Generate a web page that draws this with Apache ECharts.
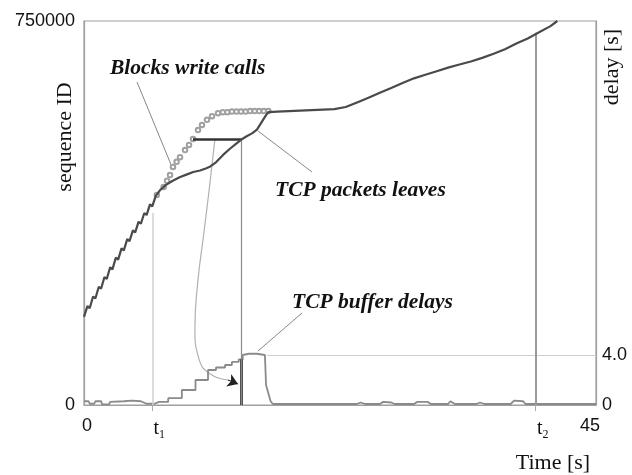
<!DOCTYPE html>
<html>
<head>
<meta charset="utf-8">
<script src="https://cdn.jsdelivr.net/npm/echarts@6/dist/echarts.min.js"></script>
<style>
  html, body { margin: 0; padding: 0; background: #fff; }
  #chart { width: 632px; height: 475px; }
</style>
</head>
<body>
<div id="chart"></div>
<script>
// TCP packets leaving (time s, sequence id)
const leaves = [
  [0.0, 172000], [0.3, 193000], [0.5, 189000], [0.8, 212000], [1.0, 208000],
  [1.3, 231000], [1.5, 227000], [1.8, 250000], [2.0, 246000], [2.3, 269000],
  [2.5, 265000], [2.8, 288000], [3.0, 284000], [3.3, 306000], [3.5, 302000],
  [3.8, 324000], [4.0, 320000], [4.3, 341000], [4.5, 337000], [4.8, 358000],
  [5.0, 354000], [5.3, 375000], [5.5, 371000], [5.8, 392000], [6.0, 388000],
  [6.3, 408000], [6.7, 420000], [7.2, 430000], [7.8, 438000], [8.4, 445000],
  [9.0, 450000], [9.6, 455000], [10.2, 458000], [10.7, 462000], [11.1, 466000],
  [11.6, 474000], [12.2, 488000], [12.8, 500000], [13.3, 509000], [13.8, 518000],
  [14.3, 525000], [14.8, 531000], [15.2, 538000], [15.6, 552000], [16.0, 566000],
  [16.2, 572000], [17.0, 573000], [18.0, 574000], [19.0, 575000], [20.0, 576000],
  [21.0, 577000], [22.0, 578000], [23.0, 582000], [24.0, 591000], [25.0, 600000],
  [26.0, 610000], [27.0, 619000], [28.0, 629000], [29.0, 638000], [30.0, 645000],
  [31.0, 652000], [32.0, 659000], [33.0, 665000], [34.0, 671000], [35.0, 678000],
  [36.0, 686000], [37.0, 695000], [38.0, 706000], [39.0, 716000], [40.0, 728000],
  [41.0, 740000], [41.6, 750000]
];

// block write calls (time s, sequence id)
const blocks = [
  [6.4, 410000], [7.0, 426000], [7.3, 438000], [7.56, 449000], [7.82, 465000],
  [8.14, 475000], [8.44, 484000], [8.88, 498000], [9.23, 508000], [9.58, 519500],
  [10.02, 537000], [10.37, 547000], [10.81, 557000], [11.25, 564000], [11.78, 570000],
  [12.2, 572000], [12.6, 572000], [13.0, 573000], [13.4, 573000], [13.8, 573000],
  [14.2, 573000], [14.6, 574000], [15.0, 574000], [15.4, 574000], [15.8, 574000],
  [16.2, 574000]
];

// TCP buffer delay (time s, delay s)
const delay = [
  [0, 0.3], [0.4, 0.3], [0.5, 0.1], [0.9, 0.1], [1.0, 0.3], [1.5, 0.3], [1.6, 0.05],
  [2.2, 0.05], [2.3, 0.25], [3.5, 0.3], [4.2, 0.35], [5.0, 0.3], [5.5, 0.1], [6.2, 0.1],
  [6.6, 0.25], [7.4, 0.25], [7.4, 0.55], [8.6, 0.55], [8.6, 1.2], [9.8, 1.2], [9.8, 2.0],
  [10.9, 2.0], [10.9, 2.8], [11.6, 2.8], [11.6, 3.0], [12.4, 3.0], [12.4, 3.2], [13.0, 3.2],
  [13.0, 3.45], [13.6, 3.45], [13.6, 3.65], [13.95, 3.65], [13.95, 4.0], [14.5, 4.1],
  [15.2, 4.1], [15.9, 4.0], [16.0, 1.6], [16.4, 0.3], [16.6, 0.08], [24.0, 0.08],
  [24.3, 0.2], [24.7, 0.08], [26.0, 0.08], [26.3, 0.25], [27.0, 0.2], [27.3, 0.08],
  [29.0, 0.08], [29.3, 0.25], [30.2, 0.25], [30.5, 0.08], [32.0, 0.08], [32.2, 0.3],
  [32.6, 0.08], [34.5, 0.08], [34.8, 0.2], [35.2, 0.08], [37.5, 0.08], [37.8, 0.35],
  [38.6, 0.3], [38.8, 0.08], [45, 0.08]
];

// thin guide curve from the write/leave gap down to the delay step
const guideCurve = [
  [11.51, 519500], [11.0, 420000], [10.5, 330000], [10.0, 240000], [9.75, 150000],
  [10.1, 90000], [11.07, 61000], [12.66, 48800]
];
const arrowTip = [13.53, 41000];

const t1 = 6;
const t2 = 39.7;
const gapTime = 13.86;
const gapSeq = 519500;
const xTicks = [0, t1, t2, 45];
const xTickLabels = ['{l|0}', '{sp| }{t|t}{s|1}', '{sp| }{t|t}{s|2}', '{n|45}{sp2| }'];

const chart = echarts.init(document.getElementById('chart'));

const sans = 'Liberation Sans';
const serif = 'Liberation Serif';

chart.setOption({
  animation: false,
  backgroundColor: '#fff',
  grid: {
    left: 84, right: 36, top: 21, bottom: 70,
    show: true, borderColor: '#a0a0a0', borderWidth: 1.2
  },
  xAxis: {
    type: 'value', min: 0, max: 45,
    axisLine: { lineStyle: { color: '#a0a0a0', width: 1.2 } },
    axisTick: { show: true, customValues: [t1, t2], length: 6, lineStyle: { color: '#aaa' } },
    splitLine: { show: false },
    axisLabel: {
      customValues: xTicks,
      margin: 12,
      formatter: (v) => xTickLabels[xTicks.indexOf(v)] || '',
      rich: {
        l: { fontFamily: sans, fontSize: 18, color: '#111', padding: [0, 0, 0, 6] },
        n: { fontFamily: sans, fontSize: 18, color: '#111' },
        t: { fontFamily: serif, fontSize: 20, color: '#111' },
        s: { fontFamily: serif, fontSize: 12, color: '#111', padding: [12, 0, 0, 0] },
        sp: { width: 14 },
        sp2: { width: 12 }
      }
    }
  },
  yAxis: [
    {
      type: 'value', min: 0, max: 750000, interval: 750000,
      axisLine: { show: true, lineStyle: { color: '#a0a0a0', width: 1.2 } },
      axisTick: { show: false },
      splitLine: { show: false },
      axisLabel: { margin: 9, fontFamily: sans, fontSize: 18, color: '#111', formatter: (v) => String(v) }
    },
    {
      type: 'value', min: 0, max: 30.72, interval: 4, position: 'right',
      axisLine: { show: true, lineStyle: { color: '#a0a0a0', width: 1.2 } },
      axisTick: { show: false },
      splitLine: { show: false },
      axisLabel: {
        margin: 6, fontFamily: sans, fontSize: 18, color: '#111',
        formatter: (v) => (v === 0 ? '0' : v === 4 ? '4.0' : '')
      }
    }
  ],
  series: [
    {
      name: 'TCP buffer delays', type: 'line', yAxisIndex: 1, data: delay,
      symbol: 'none', lineStyle: { color: '#8a8a8a', width: 1.8 },
      z: 3,
      markLine: {
        silent: true, symbol: ['none', 'none'], label: { show: false },
        data: [
          [{ coord: [16.1, 4], lineStyle: { color: '#cfcfcf', width: 1.2, type: 'solid' } }, { coord: [45, 4] }],
          [{ coord: [gapTime, 0], lineStyle: { color: '#111', width: 2.5, type: 'solid' } }, { coord: [gapTime, 3.65] }]
        ]
      }
    },
    {
      name: 'Blocks write calls', type: 'line', data: blocks,
      symbol: 'emptyCircle', symbolSize: 4.5, showAllSymbol: true,
      itemStyle: { color: '#a0a0a0', borderWidth: 1.2 },
      lineStyle: { width: 0, opacity: 0 }, z: 4
    },
    {
      name: 'TCP packets leaves', type: 'line', data: leaves,
      symbol: 'none', lineStyle: { color: '#4a4a4a', width: 2.2 }, z: 5,
      markLine: {
        silent: true, symbol: ['none', 'none'], label: { show: false },
        data: [
          [{ coord: [t1, 0], lineStyle: { color: '#d0d0d0', width: 1.5, type: 'solid' } }, { coord: [t1, 375000] }],
          [{ coord: [t2, 0], lineStyle: { color: '#9a9a9a', width: 2, type: 'solid' } }, { coord: [t2, 727000] }],
          [{ coord: [gapTime, 0], lineStyle: { color: '#8a8a8a', width: 1.2, type: 'solid' } }, { coord: [gapTime, 517000] }],
          [{ coord: [9.58, gapSeq], lineStyle: { color: '#333', width: 2.5, type: 'solid' } }, { coord: [gapTime, gapSeq] }]
        ]
      }
    },
    {
      name: 'guide', type: 'line', data: guideCurve, smooth: 0.5,
      symbol: 'none', lineStyle: { color: '#b0b0b0', width: 1.2 }, z: 2,
      markLine: {
        silent: true, symbol: ['none', 'arrow'], symbolSize: 10, label: { show: false },
        lineStyle: { color: '#222', width: 1.2, type: 'solid' },
        data: [[{ coord: guideCurve[guideCurve.length - 1] }, { coord: arrowTip }]]
      }
    }
  ],
  graphic: [
    { type: 'text', x: 65, y: 137, rotation: Math.PI / 2,
      style: { text: 'sequence ID', font: '22px "Liberation Serif"', fill: '#111', align: 'center', verticalAlign: 'middle' } },
    { type: 'text', x: 612, y: 67, rotation: Math.PI / 2,
      style: { text: 'delay [s]', font: '22px "Liberation Serif"', fill: '#111', align: 'center', verticalAlign: 'middle' } },
    { type: 'text', x: 553, y: 463,
      style: { text: 'Time [s]', font: '22px "Liberation Serif"', fill: '#111', align: 'center', verticalAlign: 'middle' } },
    { type: 'text', x: 110, y: 68,
      style: { text: 'Blocks write calls', font: 'italic bold 21.5px "Liberation Serif"', fill: '#111', align: 'left', verticalAlign: 'middle' } },
    { type: 'text', x: 275, y: 190,
      style: { text: 'TCP packets leaves', font: 'italic bold 21.5px "Liberation Serif"', fill: '#111', align: 'left', verticalAlign: 'middle' } },
    { type: 'text', x: 292, y: 302,
      style: { text: 'TCP buffer delays', font: 'italic bold 21.5px "Liberation Serif"', fill: '#111', align: 'left', verticalAlign: 'middle' } },
    { type: 'line', shape: { x1: 137, y1: 82, x2: 172, y2: 167 }, style: { stroke: '#888', lineWidth: 1 } },
    { type: 'line', shape: { x1: 258, y1: 131, x2: 312, y2: 172 }, style: { stroke: '#888', lineWidth: 1 } },
    { type: 'line', shape: { x1: 258, y1: 351, x2: 302, y2: 313 }, style: { stroke: '#888', lineWidth: 1 } }
  ]
});
</script>
</body>
</html>
